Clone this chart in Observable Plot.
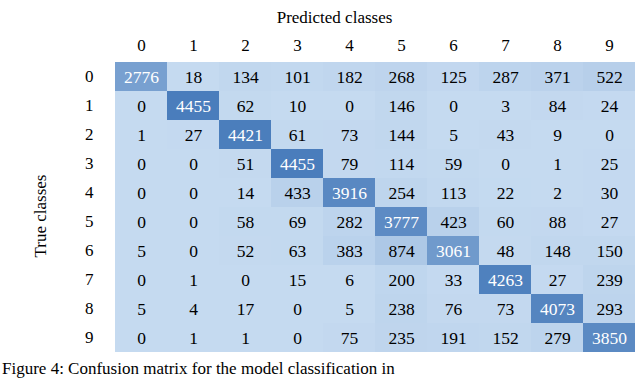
<!DOCTYPE html>
<html>
<head>
<meta charset="utf-8">
<script src="https://cdn.jsdelivr.net/npm/d3@7"></script>
<script src="https://cdn.jsdelivr.net/npm/@observablehq/plot@0.6"></script>
<style>
  html, body { margin: 0; padding: 0; background: #fff; overflow: hidden; width: 640px; height: 380px; }
  #caption { font-family: "Liberation Serif", serif; font-size: 17px; color: #000; padding-left: 2px; white-space: nowrap; line-height: 18px; }
</style>
</head>
<body>
<div id="chart"></div>
<div id="caption">Figure 4: Confusion matrix for the model classification in</div>
<script>
const classes = ["0","1","2","3","4","5","6","7","8","9"];
const row0 = [2776, 18, 134, 101, 182, 268, 125, 287, 371, 522];
const row1 = [0, 4455, 62, 10, 0, 146, 0, 3, 84, 24];
const row2 = [1, 27, 4421, 61, 73, 144, 5, 43, 9, 0];
const row3 = [0, 0, 51, 4455, 79, 114, 59, 0, 1, 25];
const row4 = [0, 0, 14, 433, 3916, 254, 113, 22, 2, 30];
const row5 = [0, 0, 58, 69, 282, 3777, 423, 60, 88, 27];
const row6 = [5, 0, 52, 63, 383, 874, 3061, 48, 148, 150];
const row7 = [0, 1, 0, 15, 6, 200, 33, 4263, 27, 239];
const row8 = [5, 4, 17, 0, 5, 238, 76, 73, 4073, 293];
const row9 = [0, 1, 1, 0, 75, 235, 191, 152, 279, 3850];
const rows = [row0, row1, row2, row3, row4, row5, row6, row7, row8, row9];
const xTitle = "Predicted classes";
const yTitle = "True classes";

const data = [];
rows.forEach((r, i) => r.forEach((v, j) => data.push({trueC: classes[i], pred: classes[j], value: v})));

const chart = Plot.plot({
  width: 640,
  height: 360,
  marginLeft: 114,
  marginRight: 4,
  marginTop: 57,
  marginBottom: 4,
  style: {fontFamily: "'Liberation Serif', serif", fontSize: "17px", color: "#000", background: "#fff", overflow: "visible"},
  x: {domain: classes, padding: 0},
  y: {domain: classes, padding: 0},
  color: {type: "linear", domain: [0, 4455], range: ["#c5daf0", "#4a7dbc"]},
  marks: [
    Plot.cell(data, {x: "pred", y: "trueC", fill: "value", inset: 0}),
    Plot.text(data, {x: "pred", y: "trueC", text: d => String(d.value), fill: d => d.value > 2000 ? "#fff" : "#000", fontSize: 17.5}),
    Plot.axisX({anchor: "top", tickSize: 0, tickPadding: 7, label: null, fontSize: 17}),
    Plot.axisY({anchor: "left", tickSize: 0, tickPadding: 21, label: null, fontSize: 17}),
    Plot.text([xTitle], {frameAnchor: "top", text: d => d, dy: -47, dx: -41, fontSize: 17}),
    Plot.text([yTitle], {frameAnchor: "left", textAnchor: "middle", text: d => d, rotate: -90, dx: -74, dy: 9, fontSize: 17})
  ]
});
document.getElementById("chart").appendChild(chart);
</script>
</body>
</html>
